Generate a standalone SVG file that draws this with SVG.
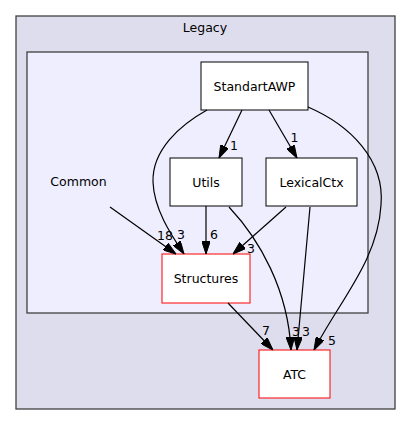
<svg xmlns="http://www.w3.org/2000/svg" width="411" height="425" viewBox="0 0 411 425">
<style>
text{font-family:"DejaVu Sans",sans-serif;font-size:12.5px;fill:#000;text-anchor:middle}
.lbl{font-size:12.5px}
.node{fill:#fff;stroke:#000;stroke-width:1}
.red{fill:#fff;stroke:#ff0000;stroke-width:1}
.edge{fill:none;stroke:#000;stroke-width:1.2;marker-end:url(#ah)}
</style>
<defs>
<marker id="ah" viewBox="0 0 13 8.6" refX="13" refY="4.3" markerWidth="13" markerHeight="8.6" markerUnits="userSpaceOnUse" orient="auto">
<path d="M0,0 L13,4.3 L0,8.6 z" fill="#000" stroke="#000" stroke-width="1"/>
</marker>
</defs>
<rect width="411" height="425" fill="#fff"/>
<g id="cluster_Legacy">
<rect x="16" y="16" width="379" height="393" fill="#ddddee" stroke="#404040" stroke-width="1.3"/>
<text x="205" y="32">Legacy</text>
</g>
<g id="cluster_Common">
<rect x="27" y="52" width="341" height="261" fill="#eeeeff" stroke="#404040" stroke-width="1.3"/>
<text x="78.5" y="186">Common</text>
</g>
<g id="node_StandartAWP">
<rect class="node" x="201" y="62" width="107" height="48"/>
<text x="254.5" y="90.5">StandartAWP</text>
</g>
<g id="node_Utils">
<rect class="node" x="170" y="158" width="72" height="48"/>
<text x="206" y="186.5">Utils</text>
</g>
<g id="node_LexicalCtx">
<rect class="node" x="266" y="158" width="91" height="48"/>
<text x="311.5" y="186.5">LexicalCtx</text>
</g>
<g id="node_Structures">
<rect class="red" x="162" y="254" width="88" height="49"/>
<text x="206" y="283">Structures</text>
</g>
<g id="node_ATC">
<rect class="red" x="259" y="350" width="71" height="48"/>
<text x="294.5" y="378.5">ATC</text>
</g>
<g id="edges">
<path class="edge" d="M110,207 L176,254"/>
<text class="lbl" x="165" y="239.5">18</text>
<path class="edge" d="M207,110 C180,125 152,150 153,182 C154,210 172,236 184,254"/>
<text class="lbl" x="181" y="238.5">3</text>
<path class="edge" d="M242,110 L219,158"/>
<text class="lbl" x="234" y="149.5">1</text>
<path class="edge" d="M269,110 L297,158"/>
<text class="lbl" x="294.5" y="142">1</text>
<path class="edge" d="M308,107 C350,125 385,160 381,205 C378,260 340,300 314,350"/>
<text class="lbl" x="332" y="344.5">5</text>
<path class="edge" d="M206,206 L206,254"/>
<text class="lbl" x="214" y="238.5">6</text>
<path class="edge" d="M229,207 C260,240 288,290 291,350"/>
<text class="lbl" x="296" y="335.5">3</text>
<path class="edge" d="M286,207 L233,254"/>
<text class="lbl" x="251" y="252.5">3</text>
<path class="edge" d="M310,207 L297,350"/>
<text class="lbl" x="306" y="335.5">3</text>
<path class="edge" d="M228,303 L273,350"/>
<text class="lbl" x="266" y="334.5">7</text>
</g>
</svg>
